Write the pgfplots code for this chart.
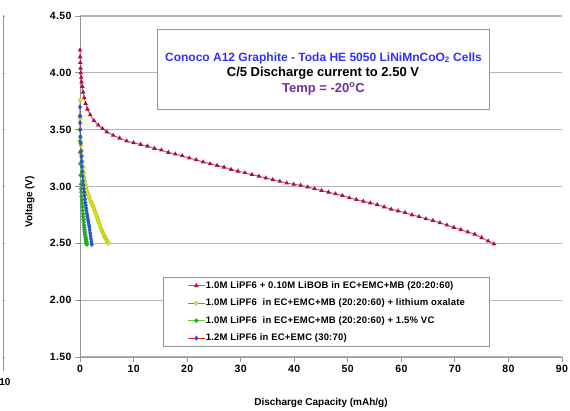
\documentclass[border=0pt]{standalone}
\usepackage{fontspec}
\setmainfont{Liberation Sans}
\usepackage{pgfplots}
\pgfplotsset{compat=1.18}
\definecolor{axisgray}{RGB}{150,150,150}
\definecolor{gridgray}{RGB}{180,180,180}
\definecolor{linepurple}{RGB}{150,100,205}
\definecolor{markred}{RGB}{190,10,45}
\definecolor{markyellow}{RGB}{255,255,0}
\definecolor{lineyellow}{RGB}{190,200,40}
\definecolor{linegreen}{RGB}{110,200,60}
\definecolor{markgreen}{RGB}{40,170,40}
\definecolor{linered}{RGB}{230,40,40}
\definecolor{markblue}{RGB}{40,90,205}
\definecolor{titleblue}{RGB}{50,50,255}
\definecolor{titlepurple}{RGB}{112,48,160}
\begin{document}
\begin{tikzpicture}
\begin{axis}[
 scale only axis, width=482pt, height=341pt,
 xmin=0, xmax=90, ymin=1.5, ymax=4.5,
 xtick={0,10,...,90}, ytick={1.5,2,...,4.5},
 axis lines*=left,
 axis line style={draw=axisgray, line width=0.8pt},
 ymajorgrids, grid style={draw=gridgray, line width=1.1pt},
 tick style={draw=axisgray, line width=0.8pt},
 tick align=outside, major tick length=5pt,
 ticklabel style={font=\fontsize{10.5}{12}\selectfont\bfseries\addfontfeature{LetterSpace=4}},
 /pgf/number format/assume math mode=true,
 yticklabel style={/pgf/number format/fixed, /pgf/number format/fixed zerofill, /pgf/number format/precision=2},
 xlabel={Discharge Capacity (mAh/g)}, ylabel={Voltage (V)},
 label style={font=\bfseries},
 xlabel style={at={(axis description cs:0.5,-0.135)}, anchor=center},
 ylabel style={at={(axis description cs:-0.104,0.455)}, anchor=center},
 clip=false,
 legend cell align=left,
 legend style={at={(axis description cs:0.172,0.2346)}, anchor=north west,
   draw=axisgray, line width=0.8pt,
   font=\fontsize{9.5}{11}\selectfont\bfseries\addfontfeature{LetterSpace=2},
   row sep=7.5pt, inner xsep=24pt, inner ysep=3.25pt,
   nodes={inner sep=0.5pt, text height=7pt, text depth=2pt}},
]
% 1.0M LiPF6 + 0.10M LiBOB
\addplot[color=linepurple, line width=1pt, mark=triangle*, mark size=1.7pt,
  mark options={draw=markred, fill=markred}] coordinates {
 (0,4.20) (0.03,4.14) (0.06,4.09) (0.1,4.04) (0.15,4.00) (0.22,3.96) (0.3,3.92)
 (0.42,3.88) (0.58,3.83) (0.8,3.78) (1.05,3.73) (1.4,3.68) (1.9,3.63) (2.6,3.58)
 (3.4,3.54) (4.2,3.51) (5.0,3.48) (6.2,3.45) (7.4,3.425) (8.7,3.40) (10.0,3.385)
 (11.3,3.37) (12.6,3.355) (13.9,3.335) (15.2,3.32) (16.5,3.30) (17.8,3.285)
 (19.1,3.27) (20.4,3.25) (21.7,3.235) (23.0,3.215) (24.3,3.20) (25.6,3.185)
 (26.9,3.17) (28.2,3.15) (29.5,3.135) (30.8,3.12) (32.1,3.105) (33.4,3.09)
 (34.7,3.075) (36.0,3.06) (37.3,3.045) (38.6,3.03) (39.9,3.02) (41.2,3.01)
 (42.5,2.995) (43.8,2.98) (45.1,2.965) (46.4,2.95) (47.7,2.935) (49.0,2.92)
 (50.3,2.90) (51.6,2.885) (52.9,2.87) (54.2,2.855) (55.5,2.84) (56.8,2.82)
 (58.1,2.80) (59.4,2.785) (60.7,2.77) (62.0,2.75) (63.3,2.735) (64.6,2.715)
 (65.9,2.70) (67.2,2.68) (68.5,2.66) (69.8,2.64) (71.1,2.62) (72.4,2.60)
 (73.7,2.58) (75.0,2.55) (76.2,2.52) (77.3,2.495)
};
\addlegendentry{1.0M LiPF6 + 0.10M LiBOB in EC+EMC+MB (20:20:60)}
% lithium oxalate
\addplot[color=linepurple, line width=0.8pt, mark=*, mark size=1.9pt,
  mark options={draw=lineyellow, fill=markyellow}] coordinates {
 (0,3.76) (0.02,3.60) (0.05,3.50) (0.1,3.43) (0.15,3.39) (0.2,3.36) (0.3,3.32)
 (0.4,3.27) (0.5,3.22) (0.6,3.17) (0.7,3.12) (0.8,3.08) (0.9,3.05) (1.0,3.02)
 (1.15,2.99) (1.3,2.96) (1.45,2.94) (1.6,2.92) (1.75,2.90) (1.9,2.88) (2.05,2.865)
 (2.2,2.85) (2.35,2.835) (2.5,2.82) (2.65,2.80) (2.8,2.78) (2.95,2.76) (3.1,2.74)
 (3.25,2.72) (3.4,2.70) (3.55,2.68) (3.7,2.66) (3.85,2.64) (4.0,2.62) (4.15,2.605)
 (4.3,2.59) (4.45,2.575) (4.6,2.56) (4.75,2.547) (4.9,2.535) (5.05,2.522)
 (5.2,2.51) (5.35,2.50)
};
\addlegendentry{1.0M LiPF6\ \ in EC+EMC+MB (20:20:60) + lithium oxalate}
% 1.5% VC
\addplot[color=linegreen, line width=0.8pt, mark=*, mark size=1.8pt,
  mark options={draw=markgreen, fill=markgreen}] coordinates {
 (0,3.62) (0.01,3.50) (0.02,3.40) (0.04,3.30) (0.07,3.20) (0.11,3.10) (0.17,3.02)
 (0.21,2.98) (0.25,2.95) (0.3,2.915) (0.35,2.88) (0.4,2.85) (0.45,2.82) (0.5,2.79)
 (0.55,2.76) (0.6,2.735) (0.65,2.71) (0.7,2.685) (0.75,2.66) (0.8,2.64) (0.85,2.62)
 (0.9,2.60) (0.95,2.58) (1.0,2.565) (1.05,2.55) (1.1,2.535) (1.15,2.52) (1.2,2.505)
 (1.25,2.49)
};
\addlegendentry{1.0M LiPF6\ \ in EC+EMC+MB (20:20:60) + 1.5\% VC}
% 1.2M LiPF6 in EC+EMC
\addplot[color=linered, line width=0.8pt, mark=diamond*, mark size=2pt,
  mark options={draw=markblue, fill=markblue}] coordinates {
 (0,3.70) (0.01,3.62) (0.02,3.56) (0.04,3.50) (0.08,3.44) (0.13,3.38) (0.2,3.31)
 (0.25,3.265) (0.3,3.22) (0.36,3.175) (0.42,3.13) (0.48,3.09) (0.55,3.05)
 (0.62,3.015) (0.7,2.98) (0.78,2.95) (0.85,2.92) (0.92,2.89) (1.0,2.86) (1.08,2.835)
 (1.15,2.81) (1.22,2.785) (1.3,2.76) (1.38,2.74) (1.45,2.72) (1.52,2.70) (1.6,2.68)
 (1.68,2.66) (1.75,2.64) (1.82,2.615) (1.9,2.59) (1.97,2.565) (2.05,2.54)
 (2.12,2.515) (2.2,2.49)
};
\addlegendentry{1.2M LiPF6 in EC+EMC (30:70)}
\end{axis}
% title box
\draw[draw=axisgray, line width=0.8pt, fill=white] (77pt,248pt) rectangle (409pt,328pt);
\node[font=\fontsize{12}{14}\selectfont\bfseries, text=titleblue] at (243.5pt,299pt)
 {Conoco A12 Graphite - Toda HE 5050 LiNiMnCoO\textsubscript{2} Cells};
\node[font=\fontsize{13}{15}\selectfont\bfseries] at (243pt,284.3pt)
 {C/5 Discharge current to 2.50 V};
\node[font=\fontsize{13}{15}\selectfont\bfseries, text=titlepurple] at (243.5pt,268pt)
 {Temp = -20\textsuperscript{o}C};
% edge of the neighbouring chart
\draw[draw=axisgray, line width=0.8pt] (-77pt,-14pt) -- (-77pt,342pt);
\foreach \y in {0,56.8,113.7,170.5,227.3,284.2,341} \draw[draw=axisgray, line width=0.5pt] (-77pt,\y pt) -- (-75pt,\y pt);
\node[font=\bfseries] at (-75pt,-25pt) {10};
\pgfresetboundingbox
\path (-80pt,-53pt) rectangle (490pt,357pt);
\end{tikzpicture}
\end{document}
